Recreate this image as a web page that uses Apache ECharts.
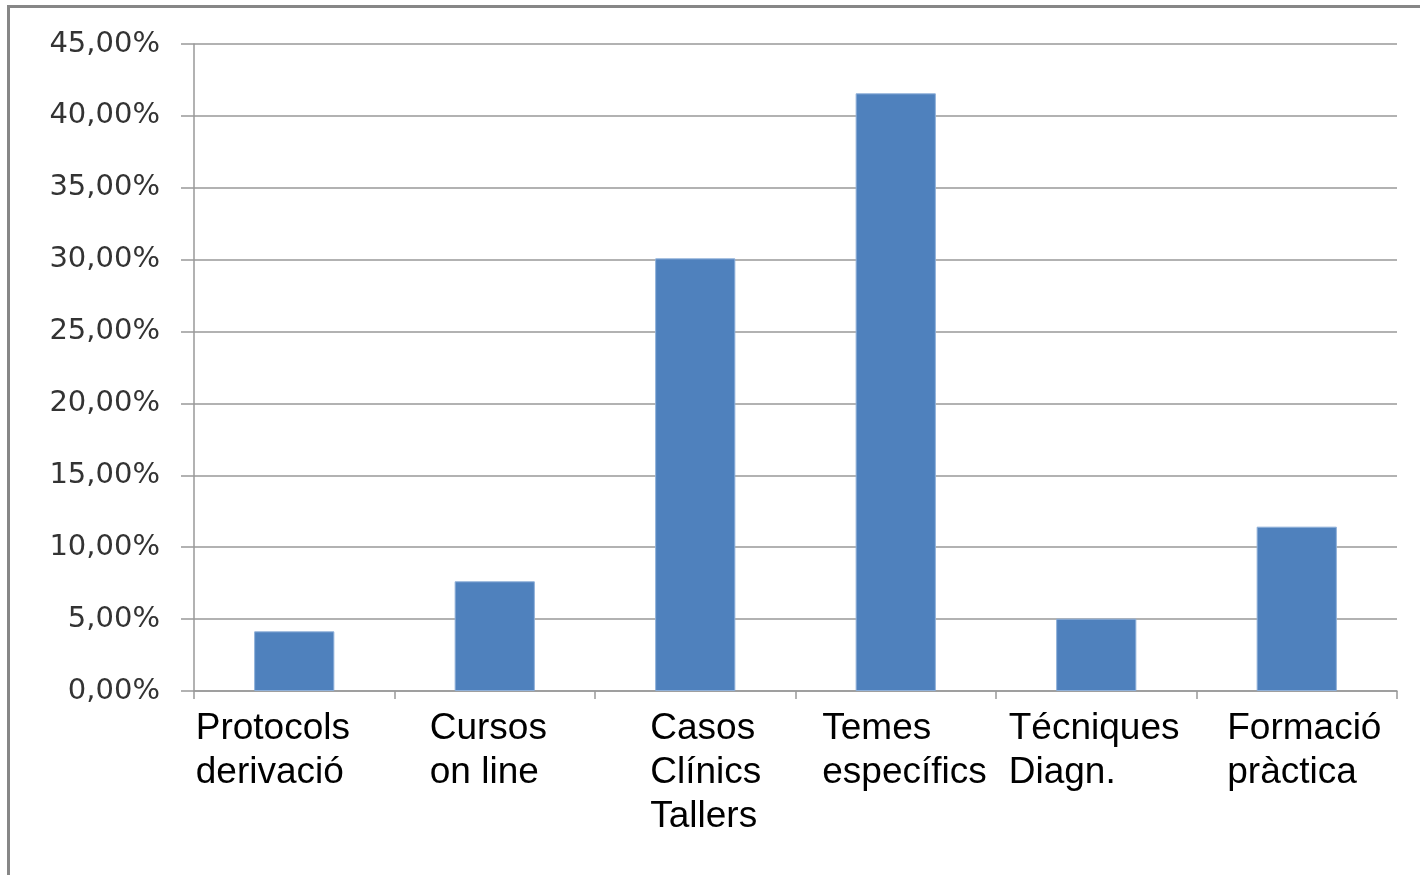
<!DOCTYPE html>
<html>
<head>
<meta charset="utf-8">
<style>
  html, body { margin: 0; padding: 0; background: #ffffff; }
  #chart { width: 1420px; height: 875px; }
</style>
<script src="https://cdn.jsdelivr.net/npm/echarts@6/dist/echarts.min.js"></script>
</head>
<body>
<div id="chart"></div>
<script>
// Data
const categories = [
  'Protocols\nderivació',
  'Cursos\non line',
  'Casos\nClínics\nTallers',
  'Temes\nespecífics',
  'Técniques\nDiagn.',
  'Formació\npràctica'
];
const percentValues = [4.15, 7.63, 30.09, 41.57, 5.03, 11.43];
const yTicks = { min: 0, max: 45, interval: 5 };
// horizontal nudge of each category label block (style only, px)
const labelShift = [-20, -5, 12, 10, -1, 9];

const catFont = '37px "Liberation Sans", Arial, sans-serif';
const measure = (function () {
  const c = document.createElement('canvas').getContext('2d');
  c.font = catFont;
  return function (t) { return c.measureText(t).width; };
})();

const rich = {};
categories.forEach(function (cat, i) {
  const w = Math.max.apply(null, cat.split('\n').map(measure));
  const d = labelShift[i];
  rich['c' + i] = {
    width: Math.ceil(w) + 2,
    align: 'left',
    padding: [0, d < 0 ? -2 * d : 0, 0, d > 0 ? 2 * d : 0],
    fontSize: 37,
    lineHeight: 44,
    fontFamily: '"Liberation Sans", Arial, sans-serif',
    color: '#000000'
  };
});

const chart = echarts.init(document.getElementById('chart'), null, { renderer: 'canvas' });
chart.setOption({
  backgroundColor: '#ffffff',
  animation: false,
  graphic: [{
    type: 'rect',
    shape: { x: 8.5, y: 6.5, width: 1440, height: 900 },
    style: { fill: 'none', stroke: '#878787', lineWidth: 3 },
    silent: true
  }],
  grid: { left: 194, right: 23, top: 44, bottom: 184, containLabel: false },
  xAxis: {
    type: 'category',
    data: categories,
    axisLine: { show: true, lineStyle: { color: '#999999', width: 1.5 } },
    axisTick: { show: true, length: 8, alignWithLabel: false, lineStyle: { color: '#999999', width: 1.5 } },
    axisLabel: {
      interval: 0,
      margin: 16,
      align: 'center',
      formatter: function (value, index) {
        return value.split('\n').map(function (l) { return '{c' + index + '|' + l + '}'; }).join('\n');
      },
      rich: rich
    }
  },
  yAxis: {
    type: 'value',
    min: yTicks.min,
    max: yTicks.max,
    interval: yTicks.interval,
    axisLine: { show: true, lineStyle: { color: '#999999', width: 1.5 } },
    axisTick: { show: true, length: 13, lineStyle: { color: '#999999', width: 1.5 } },
    splitLine: { show: true, lineStyle: { color: '#999999', width: 1.5 } },
    axisLabel: {
      margin: 34,
      fontSize: 29,
      fontFamily: '"DejaVu Sans", Verdana, sans-serif',
      color: '#333333',
      formatter: function (v) { return v.toFixed(2).replace('.', ',') + '%'; }
    }
  },
  series: [{
    type: 'bar',
    data: percentValues,
    barWidth: '40%',
    itemStyle: { color: '#4F81BD', borderColor: '#8FB0D9', borderWidth: 1 }
  }]
});
</script>
</body>
</html>
